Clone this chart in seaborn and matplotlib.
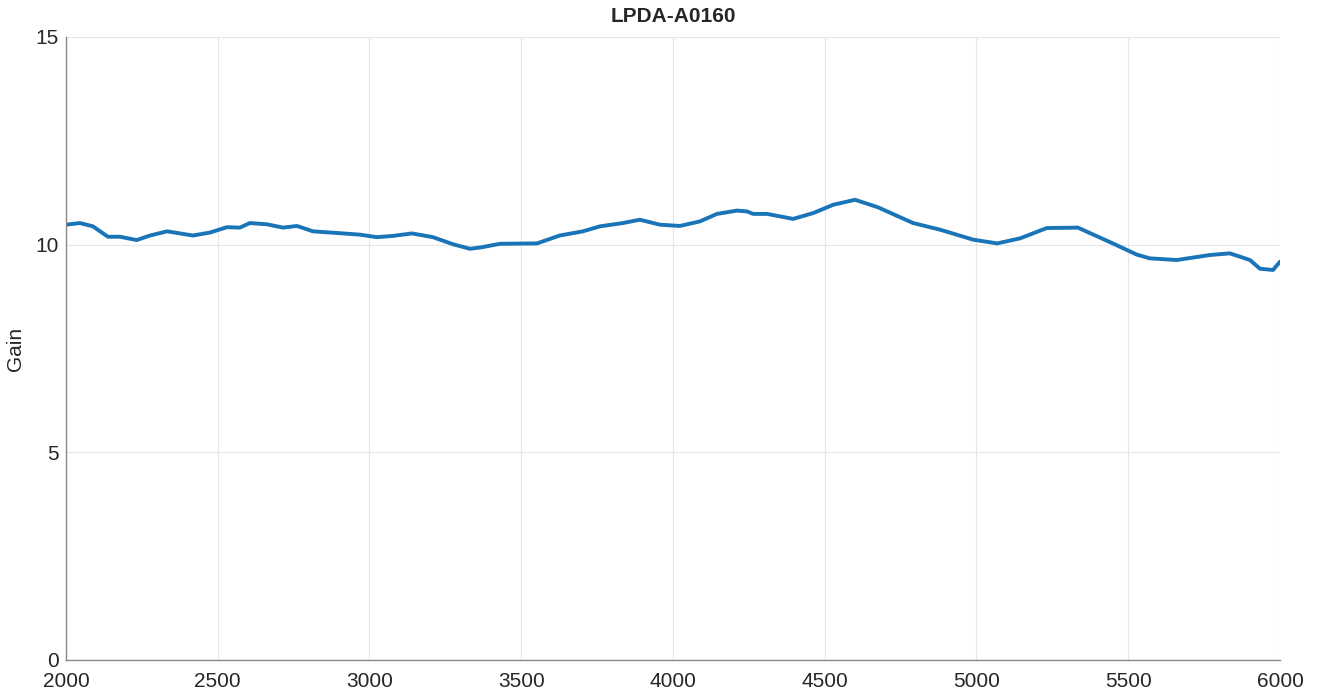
import numpy as np
import pandas as pd
import seaborn as sns
import matplotlib
matplotlib.use("Agg")
import matplotlib.pyplot as plt

# frequency (MHz) and gain
freq = [2000, 2046, 2089, 2138, 2178, 2233, 2277, 2333, 2418, 2474, 2530, 2573,
        2606, 2662, 2715, 2761, 2814, 2913, 2969, 3024, 3077, 3140, 3209, 3275,
        3331, 3364, 3430, 3552, 3627, 3703, 3759, 3835, 3891, 3957, 4023, 4089,
        4145, 4211, 4244, 4264, 4310, 4396, 4462, 4528, 4600, 4675, 4791, 4880,
        4989, 5068, 5143, 5232, 5334, 5449, 5528, 5571, 5660, 5769, 5835, 5901,
        5934, 5977, 6000]
gain = [10.48, 10.52, 10.44, 10.19, 10.19, 10.11, 10.22, 10.32, 10.22, 10.29, 10.42, 10.41,
        10.52, 10.49, 10.41, 10.45, 10.32, 10.27, 10.24, 10.18, 10.21, 10.27, 10.18, 10.01,
        9.90, 9.93, 10.02, 10.03, 10.22, 10.32, 10.44, 10.52, 10.60, 10.48, 10.45, 10.56,
        10.74, 10.82, 10.80, 10.74, 10.74, 10.62, 10.76, 10.96, 11.08, 10.90, 10.52, 10.36,
        10.12, 10.03, 10.15, 10.40, 10.41, 10.03, 9.76, 9.67, 9.63, 9.75, 9.79, 9.63,
        9.42, 9.39, 9.59]

x_ticks = [2000, 2500, 3000, 3500, 4000, 4500, 5000, 5500, 6000]
y_ticks = [0, 5, 10, 15]

df = pd.DataFrame({"freq": freq, "gain": gain})

sns.set_style("whitegrid")
plt.rcParams['font.family'] = ['Liberation Sans', 'DejaVu Sans']

fig = plt.figure(figsize=(13.17, 6.95), dpi=100)
ax = fig.add_axes([0.0501, 0.0504, 0.9218, 0.8964])

sns.lineplot(data=df, x="freq", y="gain", color="#1a74b8", linewidth=2.8, ax=ax)

ax.set_xlim(2000, 6000)
ax.set_ylim(0, 15)
ax.set_xticks(x_ticks)
ax.set_yticks(y_ticks)
ax.tick_params(direction="in", length=5, width=0.8, colors="#808080",
               labelcolor="#262626", labelsize=15)
ax.tick_params(axis="x", pad=9)
ax.tick_params(axis="y", pad=5)
ax.grid(True, color="#e6e6e6", linewidth=0.8)

for side in ["top", "right"]:
    ax.spines[side].set_visible(False)
for side in ["left", "bottom"]:
    ax.spines[side].set_color("#8a8a8a")
    ax.spines[side].set_linewidth(1.0)

ax.set_xlabel("")
ax.set_ylabel("Gain", fontsize=15, color="#262626", labelpad=8)
ax.set_title("LPDA-A0160", fontsize=15, fontweight="bold", color="#262626", pad=11)

fig.savefig("out.png", dpi=100)
